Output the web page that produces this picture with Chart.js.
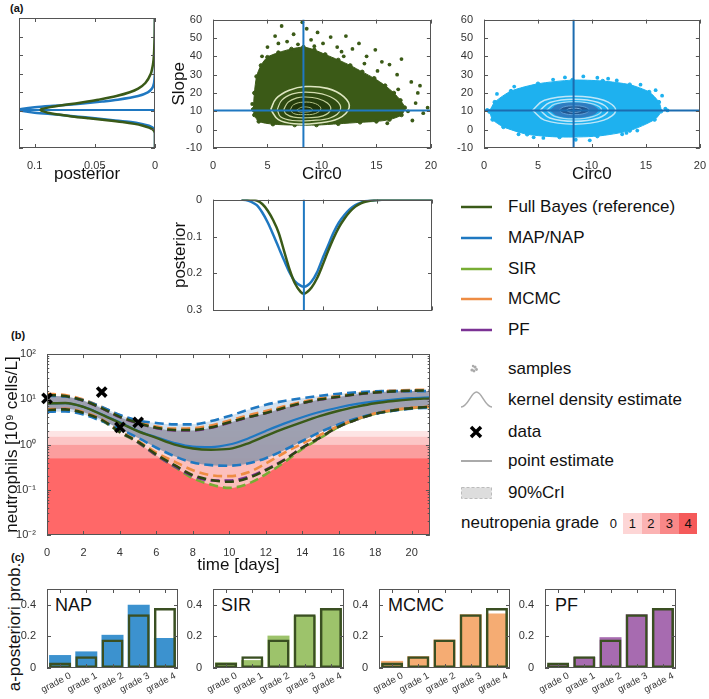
<!DOCTYPE html>
<html>
<head>
<meta charset="utf-8">
<script src="https://cdn.jsdelivr.net/npm/chart.js@4.4.0/dist/chart.umd.min.js"></script>
<style>
  body { margin: 0; background: #fff; }
  #fig { position: relative; width: 709px; height: 699px; overflow: hidden;
         font-family: 'Liberation Sans', Arial, sans-serif; color: #111; }
  #fig canvas { position: absolute; }
  .lab { position: absolute; font-size: 11px; font-weight: bold; }
  .leg { position: absolute; left: 508px; font-size: 17px; line-height: 20px; white-space: nowrap; }
  .sym { position: absolute; left: 458px; width: 38px; height: 24px; }
  .mname { position: absolute; font-size: 18px; line-height: 20px; }
  .gbox { position: absolute; top: 513px; width: 18.6px; height: 21px; font-size: 13px; line-height: 21px; text-align: center; }
</style>
</head>
<body>
<div id="fig">
  <div class="lab" style="left:10px;top:2px">(a)</div>
  <div class="lab" style="left:11px;top:329px">(b)</div>
  <div class="lab" style="left:11px;top:551px">(c)</div>

  <!-- legend -->
  <svg class="sym" style="top:195px"><line x1="3" y1="12" x2="34" y2="12" stroke="#3a5a18" stroke-width="2.5"/></svg>
  <div class="leg" style="top:197px">Full Bayes (reference)</div>
  <svg class="sym" style="top:226px"><line x1="3" y1="12" x2="34" y2="12" stroke="#1f78c1" stroke-width="2.5"/></svg>
  <div class="leg" style="top:228px">MAP/NAP</div>
  <svg class="sym" style="top:257px"><line x1="3" y1="12" x2="34" y2="12" stroke="#78ad34" stroke-width="2.5"/></svg>
  <div class="leg" style="top:259px">SIR</div>
  <svg class="sym" style="top:287px"><line x1="3" y1="12" x2="34" y2="12" stroke="#ee8c43" stroke-width="2.5"/></svg>
  <div class="leg" style="top:289px">MCMC</div>
  <svg class="sym" style="top:318px"><line x1="3" y1="12" x2="34" y2="12" stroke="#7b3294" stroke-width="2.5"/></svg>
  <div class="leg" style="top:320px">PF</div>
  <svg class="sym" style="top:357px"><g fill="#aaa"><circle cx="14" cy="13" r="1.6"/><circle cx="17" cy="10" r="1.6"/><circle cx="16" cy="14" r="1.4"/><circle cx="18.5" cy="12.5" r="1.4"/><circle cx="15" cy="9" r="1.2"/></g></svg>
  <div class="leg" style="top:359px">samples</div>
  <svg class="sym" style="top:388px"><path d="M3,19 C10,19 13,4 18.5,4 C24,4 27,19 34,19" fill="none" stroke="#aaa" stroke-width="1.5"/></svg>
  <div class="leg" style="top:390px">kernel density estimate</div>
  <svg class="sym" style="top:420px"><path d="M13,7 L23,17 M23,7 L13,17" stroke="#000" stroke-width="3.5"/></svg>
  <div class="leg" style="top:422px">data</div>
  <svg class="sym" style="top:449px"><line x1="3" y1="12" x2="34" y2="12" stroke="#aaa" stroke-width="2"/></svg>
  <div class="leg" style="top:451px">point estimate</div>
  <svg class="sym" style="top:481px"><rect x="3.5" y="6.5" width="30" height="11" fill="#ddd" stroke="#bbb" stroke-dasharray="3,2"/></svg>
  <div class="leg" style="top:483px">90%CrI</div>
  <div class="leg" style="left:461px;top:513px">neutropenia grade</div>
  <div class="gbox" style="left:604px">0</div>
  <div class="gbox" style="left:623px;background:#fdd6d6">1</div>
  <div class="gbox" style="left:641.6px;background:#fbb3b3">2</div>
  <div class="gbox" style="left:660.2px;background:#f98888">3</div>
  <div class="gbox" style="left:678.8px;background:#f55a5a">4</div>

  <!-- panel (c) labels -->
  <div class="mname" style="left:55px;top:595px">NAP</div>
  <div class="mname" style="left:221px;top:595px">SIR</div>
  <div class="mname" style="left:388px;top:595px">MCMC</div>
  <div class="mname" style="left:555px;top:595px">PF</div>
  <div style="position:absolute;left:-65px;top:617px;width:160px;text-align:center;font-size:17px;line-height:20px;transform:rotate(-90deg);white-space:nowrap">a-posteriori prob.</div>
</div>

<script>
// ---------- data: panel (a) ----------
const mapCirc0 = 8.3;
const mapSlope = 10.5;

const slopeGrid    = [-10, -2, 0, 1, 2, 3, 4, 5, 6, 7, 8, 9, 10, 10.5, 11, 12, 13, 14, 15, 16, 18, 20, 22, 25, 30, 35, 40, 50, 60];
const fbSlopePost  = [0, 0, 0.002, 0.005, 0.01, 0.017, 0.027, 0.04, 0.055, 0.069, 0.08, 0.089, 0.094, 0.095, 0.094, 0.087, 0.077, 0.066, 0.056, 0.047, 0.032, 0.021, 0.014, 0.008, 0.0035, 0.0017, 0.0009, 0.0003, 0.0001];
const napSlopePost = [0, 0, 0.0008, 0.002, 0.005, 0.011, 0.02, 0.035, 0.05, 0.066, 0.082, 0.1, 0.111, 0.113, 0.111, 0.1, 0.078, 0.06, 0.044, 0.031, 0.014, 0.006, 0.0025, 0.0008, 0.0001, 0, 0, 0, 0];

const circGrid    = [2.6, 3, 3.5, 4, 4.5, 5, 5.5, 6, 6.5, 7, 7.5, 8, 8.3, 8.6, 9, 9.5, 10, 10.5, 11, 11.5, 12, 12.5, 13, 13.5, 14, 15, 16, 18, 20];
const fbCircPost  = [0, 0, 0.0005, 0.003, 0.012, 0.03, 0.056, 0.09, 0.14, 0.19, 0.228, 0.25, 0.255, 0.25, 0.238, 0.213, 0.178, 0.14, 0.105, 0.075, 0.052, 0.033, 0.019, 0.01, 0.005, 0.001, 0, 0, 0];
const napCircPost = [0, 0.001, 0.006, 0.015, 0.035, 0.062, 0.095, 0.13, 0.165, 0.198, 0.222, 0.233, 0.236, 0.233, 0.222, 0.197, 0.16, 0.125, 0.09, 0.062, 0.042, 0.026, 0.015, 0.008, 0.004, 0.001, 0, 0, 0];

// dense sample cloud outlines + sparse outlying samples
const fbCloudCirc  = [3.7, 3.8, 4.0, 4.4, 5.0, 6.0, 7.2, 8.3, 9.3, 10.3, 11.5, 12.6, 13.7, 14.8, 15.8, 16.6, 17.2, 17.6, 17.3, 16.2, 15.0, 13.5, 11.5, 9.5, 7.5, 5.5, 4.2, 3.8, 3.7];
const fbCloudSlope = [11, 20, 29, 35, 39.5, 42, 44, 45, 43.5, 41, 38, 35, 31.5, 28, 24, 20, 16, 12, 8, 5.5, 4.5, 4, 3.2, 2.5, 2.5, 3, 4.5, 8, 11];
const fbOutCirc  = [5.0, 5.7, 6.3, 6.8, 7.4, 8.2, 8.6, 9.0, 9.6, 10.1, 10.8, 11.4, 12.2, 12.8, 13.4, 14.1, 14.9, 15.5, 16.2, 17.3, 16.9, 18.2, 19.0, 18.8, 19.7, 19.3, 18.3, 17.9, 16.0, 6.0, 7.8, 11.8, 4.5, 9.3, 12.0, 13.9, 15.1, 18.6, 17.0, 3.6];
const fbOutSlope = [45, 51, 56.5, 48, 52, 58.5, 55, 49, 53, 47, 50.5, 45, 51, 44, 47, 40, 43.5, 37, 35.5, 38.5, 30, 26, 24, 20, 12, 9, 5, 10, 3.5, 47, 46.5, 42.5, 40, 45.5, 40, 36, 32, 14.5, 22, 14];

const napCloudCirc  = [0.5, 1.0, 2.5, 5.0, 8.2, 11.0, 13.5, 15.3, 16.2, 16.4, 15.8, 13.5, 10.5, 7.0, 4.0, 1.8, 0.8, 0.5];
const napCloudSlope = [10, 15, 21, 25, 27, 26.5, 24.5, 20.5, 15, 10, 5.5, -0.5, -3.5, -4, -2.5, 1.5, 5.5, 10];
const napOutCirc  = [9.2, 7.5, 11.5, 14.5, 16.8, 17.0, 16.5, 15.9, 0.3, 1.2, 2.8, 12.8, 8.5, 9.8, 5.5, 13.2, 3.2, 10.5, 4.6, 6.4, 12.3, 14.2];
const napOutSlope = [29, 28.5, 27.8, 24.5, 11.5, 10.5, 18.5, 21.5, 10.8, 19.5, 23.5, -2.5, -5.5, -5.8, -4.5, -1.8, -2.5, 28.3, -4.2, 27.3, 26.8, -0.5];

// kernel density contours (outer -> inner)
const fbContourCirc = [
  [5.3, 5.8, 7.0, 8.5, 10.5, 12.0, 12.5, 11.5, 9.5, 7.5, 6.0, 5.3],
  [5.9, 6.3, 7.3, 8.5, 10.0, 11.3, 11.7, 10.8, 9.0, 7.3, 6.2, 5.9],
  [6.5, 6.9, 7.7, 8.5, 9.6, 10.5, 10.8, 10.1, 8.7, 7.4, 6.7, 6.5],
  [7.1, 7.4, 8.3, 9.4, 9.9, 9.4, 8.3, 7.4, 7.1],
  [7.7, 8.2, 9.0, 9.1, 8.3, 7.8, 7.7]
];
const fbContourSlope = [
  [11, 17, 21.5, 23.5, 22.5, 18, 12, 6, 3.5, 3.2, 5.5, 11],
  [11, 16, 19.5, 20.5, 19.5, 16, 11, 6.5, 5, 5, 7, 11],
  [11, 15, 17.3, 17.8, 17, 14.5, 11, 7.5, 6.5, 6.8, 8.5, 11],
  [11, 13.6, 15, 14.2, 11.5, 8.8, 8.2, 8.8, 11],
  [10.8, 12.3, 11.8, 10.3, 9.5, 9.9, 10.8]
];
const napContourCirc = [
  [4.5, 5.6, 8.35, 11.1, 12.2, 11.1, 8.35, 5.6, 4.5],
  [5.2, 6.1, 8.35, 10.6, 11.5, 10.6, 8.35, 6.1, 5.2],
  [5.8, 6.55, 8.35, 10.15, 10.9, 10.15, 8.35, 6.55, 5.8],
  [6.15, 6.8, 8.35, 9.9, 10.55, 9.9, 8.35, 6.8, 6.15],
  [6.95, 7.35, 8.35, 9.35, 9.75, 9.35, 8.35, 7.35, 6.95],
  [7.65, 7.85, 8.35, 8.85, 9.05, 8.85, 8.35, 7.85, 7.65]
];
const napContourSlope = [
  [10.6, 16, 18.2, 16, 10.6, 5.2, 3.0, 5.2, 10.6],
  [10.6, 14.8, 16.6, 14.8, 10.6, 6.4, 4.6, 6.4, 10.6],
  [10.6, 13.9, 15.3, 13.9, 10.6, 7.3, 5.9, 7.3, 10.6],
  [10.6, 13.4, 14.5, 13.4, 10.6, 7.8, 6.7, 7.8, 10.6],
  [10.6, 12.3, 13.0, 12.3, 10.6, 8.9, 8.2, 8.9, 10.6],
  [10.6, 11.4, 11.7, 11.4, 10.6, 9.8, 9.5, 9.8, 10.6]
];

// ---------- data: panel (b) ----------
const timeGrid = [0, 1, 2, 3, 4, 5, 6, 7, 8, 9, 10, 11, 12, 13, 14, 15, 16, 17, 18, 19, 20, 21];
const fbMed  = [8.1, 8.3, 6.8, 4.6, 3.0, 1.95, 1.4, 1.0, 0.82, 0.77, 0.8, 1.05, 1.55, 2.25, 3.15, 4.3, 5.6, 6.9, 8.2, 9.2, 10.0, 10.5];
const napMed = [8.0, 8.2, 6.8, 4.7, 3.1, 2.0, 1.45, 1.08, 0.9, 0.88, 1.0, 1.35, 2.0, 2.9, 4.0, 5.3, 6.6, 7.9, 9.0, 9.9, 10.6, 11.0];
const fbUp   = [12.5, 11.8, 9.4, 6.4, 4.1, 3.0, 2.35, 2.1, 2.1, 2.4, 3.1, 4.0, 5.0, 6.5, 8.3, 10.0, 11.4, 13.0, 14.2, 15.0, 15.5, 15.7];
const fbLo   = [5.8, 6.0, 5.0, 3.5, 1.9, 1.15, 0.6, 0.35, 0.21, 0.165, 0.15, 0.18, 0.27, 0.45, 0.85, 1.45, 2.5, 3.6, 4.8, 5.7, 6.4, 6.8];
const napUp  = [12.0, 11.5, 9.5, 6.8, 4.5, 3.4, 3.0, 2.8, 2.8, 3.3, 4.3, 5.8, 7.6, 9.2, 10.6, 12.0, 13.3, 14.3, 15.0, 15.2, 15.2, 15.2];
const napLo  = [5.3, 5.4, 4.6, 3.3, 2.2, 1.4, 0.85, 0.55, 0.4, 0.35, 0.34, 0.38, 0.5, 0.75, 1.2, 1.9, 2.8, 3.8, 4.8, 5.6, 6.2, 6.5];
const sirUp  = [12.6, 11.9, 9.5, 6.5, 4.1, 3.0, 2.35, 2.1, 2.1, 2.45, 3.15, 4.1, 5.1, 6.6, 8.4, 10.1, 11.5, 13.1, 14.3, 15.1, 15.6, 15.8];
const sirLo  = [5.8, 6.0, 5.0, 3.4, 1.85, 1.1, 0.57, 0.32, 0.18, 0.13, 0.11, 0.135, 0.22, 0.4, 0.8, 1.4, 2.45, 3.6, 4.8, 5.7, 6.4, 6.8];
const mcmcUp = [13.2, 12.4, 9.9, 6.8, 4.4, 3.2, 2.5, 2.25, 2.3, 2.65, 3.4, 4.4, 5.5, 7.0, 8.8, 10.5, 12.0, 13.6, 14.8, 15.6, 16.1, 16.3];
const mcmcLo = [6.0, 6.2, 5.2, 3.6, 2.0, 1.2, 0.66, 0.42, 0.27, 0.21, 0.2, 0.24, 0.38, 0.65, 1.05, 1.65, 2.6, 3.7, 4.9, 5.8, 6.5, 6.9];
const pfUp   = [12.4, 11.7, 9.3, 6.3, 4.0, 2.95, 2.3, 2.05, 2.05, 2.35, 3.05, 3.95, 4.95, 6.4, 8.2, 9.9, 11.3, 12.9, 14.1, 14.9, 15.4, 15.6];
const pfLo   = [5.9, 6.1, 5.1, 3.5, 1.9, 1.12, 0.58, 0.33, 0.2, 0.16, 0.16, 0.19, 0.28, 0.46, 0.86, 1.45, 2.5, 3.6, 4.8, 5.7, 6.4, 6.8];
const dataT = [0, 3, 4, 5];
const dataN = [10.5, 14.5, 2.4, 3.1];
const gradeBounds = [2.0, 1.5, 1.0, 0.5];

// ---------- data: panel (c) ----------
const grades = ['grade 0', 'grade 1', 'grade 2', 'grade 3', 'grade 4'];
const fbProb   = [0.035, 0.075, 0.18, 0.34, 0.38];
const napProb  = [0.082, 0.105, 0.21, 0.40, 0.19];
const sirProb  = [0.035, 0.05, 0.205, 0.33, 0.38];
const mcmcProb = [0.045, 0.075, 0.18, 0.34, 0.345];
const pfProb   = [0.02, 0.07, 0.195, 0.34, 0.38];

// ---------- styling ----------
const TXT = '#333', AXIS = '#555';
const C_FB = '#3a5a18', C_FBD = '#2c4512', C_NAP = '#1f78c1', C_SIR = '#78ad34', C_MCMC = '#ee8c43', C_PF = '#7b3294';
const bandColors = ['#fde4e4', '#fcc6c6', '#fb9e9e', '#ff6868'];
const FONT = "'Liberation Sans', Arial, sans-serif";

Chart.defaults.font.family = FONT;
Chart.defaults.font.size = 11;
Chart.defaults.color = TXT;
Chart.defaults.animation = false;
Chart.defaults.responsive = false;
Chart.defaults.maintainAspectRatio = false;
Chart.defaults.plugins.legend.display = false;
Chart.defaults.plugins.tooltip.enabled = false;
Chart.defaults.elements.point.radius = 0;

const pts = (xs, ys) => xs.map((x, i) => ({x: x, y: ys[i]}));

function mkCanvas(left, top, w, h) {
  const c = document.createElement('canvas');
  c.width = w; c.height = h;
  c.style.left = left + 'px'; c.style.top = top + 'px';
  c.style.width = w + 'px'; c.style.height = h + 'px';
  document.getElementById('fig').appendChild(c);
  return c.getContext('2d');
}

function axis(o) {
  const a = {
    type: o.type || 'linear', reverse: !!o.reverse, offset: !!o.offset,
    grid: {display: false}, border: {display: false},
    ticks: Object.assign({color: TXT, font: {size: 11}, padding: 3, autoSkip: false,
                          maxRotation: 0, minRotation: 0, includeBounds: false}, o.ticks || {}),
    title: o.title ? {display: true, text: o.title, color: '#111', font: {size: 17},
                      padding: {top: o.tpad != null ? o.tpad : 2, bottom: 0}} : {display: false},
    afterFit: o.w != null ? s => { s.width = o.w; } : s => { s.height = o.h; }
  };
  if (o.min != null) a.min = o.min;
  if (o.max != null) a.max = o.max;
  if (o.fixedTicks) a.afterBuildTicks = s => { s.ticks = o.fixedTicks.map(v => ({value: v})); };
  return a;
}

// box with inward ticks, MATLAB style
const boxTicks = {
  id: 'boxTicks',
  afterDraw(chart) {
    const ctx = chart.ctx, a = chart.chartArea;
    ctx.save();
    ctx.strokeStyle = AXIS; ctx.lineWidth = 1;
    ctx.strokeRect(Math.round(a.left) + 0.5, Math.round(a.top) + 0.5,
                   Math.round(a.right - a.left) - 1, Math.round(a.bottom - a.top) - 1);
    ctx.beginPath();
    Object.values(chart.scales).forEach(s => {
      s.ticks.forEach((t, i) => {
        const p = Math.round(s.getPixelForTick(i)) + 0.5;
        let len = 4;
        if (s.type === 'logarithmic') {
          const e = Math.log10(t.value);
          len = Math.abs(e - Math.round(e)) < 1e-6 ? 4 : 2.2;
        }
        if (s.isHorizontal()) {
          ctx.moveTo(p, a.bottom); ctx.lineTo(p, a.bottom - len);
          ctx.moveTo(p, a.top); ctx.lineTo(p, a.top + len);
        } else {
          ctx.moveTo(a.left, p); ctx.lineTo(a.left + len, p);
          ctx.moveTo(a.right, p); ctx.lineTo(a.right - len, p);
        }
      });
    });
    ctx.stroke();
    ctx.restore();
  }
};

// slanted category labels under the bar panels
const slantLabels = {
  id: 'slantLabels',
  afterDraw(chart) {
    const ctx = chart.ctx, x = chart.scales.x, a = chart.chartArea;
    ctx.save();
    ctx.fillStyle = TXT;
    ctx.font = '9.5px ' + FONT;
    ctx.textAlign = 'right';
    ctx.textBaseline = 'top';
    chart.data.labels.forEach((lab, i) => {
      ctx.save();
      ctx.translate(x.getPixelForTick(i) + 8, a.bottom + 3);
      ctx.rotate(-28 * Math.PI / 180);
      ctx.fillText(lab, 0, 0);
      ctx.restore();
    });
    ctx.restore();
  }
};

function layered(list) {
  list.forEach((d, i) => { d.order = list.length - i; });
  return list;
}

function line(data, color, width, extra) {
  return Object.assign({data: data, showLine: true, borderColor: color, borderWidth: width,
                        pointRadius: 0, fill: false, tension: 0.3}, extra || {});
}

// ---------- (a) top-left: posterior of Slope ----------
new Chart(mkCanvas(0, 10, 165, 175), {
  type: 'scatter',
  data: {datasets: layered([
    line(pts([0, 0.113], [mapSlope, mapSlope]), C_NAP, 2, {tension: 0}),
    line(pts(napSlopePost, slopeGrid), C_NAP, 2.5),
    line(pts(fbSlopePost, slopeGrid), C_FB, 2.5)
  ])},
  options: {
    layout: {padding: {top: 8, right: 10, left: 0, bottom: 0}},
    scales: {
      x: axis({min: 0, max: 0.113, reverse: true, h: 37, title: 'posterior',
               fixedTicks: [0, 0.05, 0.1], ticks: {callback: v => String(v)}}),
      y: axis({min: -10, max: 60, w: 19, ticks: {stepSize: 10, display: false}})
    }
  },
  plugins: [boxTicks]
});

// ---------- (a) scatter charts ----------
function scatterPanel(ctx, cfg) {
  const ds = [];
  ds.push(Object.assign(line(pts(cfg.cloudC, cfg.cloudS), cfg.color, 1, {tension: 0.25}),
          {fill: 'shape', backgroundColor: cfg.color, pointRadius: 1.8, pointBackgroundColor: cfg.color}));
  ds.push({data: pts(cfg.outC, cfg.outS), showLine: false, pointRadius: 1.9,
           pointBackgroundColor: cfg.color, pointBorderWidth: 0});
  cfg.contC.forEach((cc, k) => {
    const st = cfg.contStyle[k];
    ds.push(line(pts(cc, cfg.contS[k]), st.line, st.w, {tension: 0.4,
            fill: st.fill ? 'shape' : false, backgroundColor: st.fill || 'transparent'}));
  });
  ds.push(line(pts([mapCirc0, mapCirc0], [-10, 60]), cfg.cross, 2, {tension: 0}));
  ds.push(line(pts([0, 20], [mapSlope, mapSlope]), cfg.cross, 2, {tension: 0}));
  return new Chart(ctx, {
    type: 'scatter',
    data: {datasets: layered(ds)},
    options: {
      layout: {padding: {top: 8, right: cfg.padR, left: 0, bottom: 0}},
      scales: {
        x: axis({min: 0, max: 20, h: 37, title: 'Circ0', ticks: {stepSize: 5}}),
        y: axis({min: -10, max: 60, w: cfg.yw, title: cfg.ytitle, tpad: 4, ticks: {stepSize: 10}})
      }
    },
    plugins: [boxTicks]
  });
}

const fbContFill = 'rgba(18,32,4,0.28)';
scatterPanel(mkCanvas(165, 10, 275, 175), {
  color: '#3b5a17', cross: C_NAP, padR: 9, yw: 48, ytitle: 'Slope',
  cloudC: fbCloudCirc, cloudS: fbCloudSlope, outC: fbOutCirc, outS: fbOutSlope,
  contC: fbContourCirc, contS: fbContourSlope,
  contStyle: [
    {line: '#dfe7c2', w: 1.6, fill: null},
    {line: '#d3ddb0', w: 1.2, fill: fbContFill},
    {line: '#c5d29c', w: 1.2, fill: fbContFill},
    {line: '#b3c285', w: 1.0, fill: fbContFill},
    {line: '#9fb070', w: 1.0, fill: fbContFill}
  ]
});

const napCloudColor = '#1eb1ef';
scatterPanel(mkCanvas(445, 10, 264, 175), {
  color: napCloudColor, cross: '#1c6cb0', padR: 7, yw: 39, ytitle: null,
  cloudC: napCloudCirc, cloudS: napCloudSlope, outC: napOutCirc, outS: napOutSlope,
  contC: napContourCirc, contS: napContourSlope,
  contStyle: [
    {line: '#bfe6f8', w: 1.5, fill: null},
    {line: '#bfe6f8', w: 1.5, fill: null},
    {line: '#a9dcf4', w: 1.3, fill: null},
    {line: '#2f7cc0', w: 1.0, fill: '#2f7cc0'},
    {line: '#5f9fd6', w: 1.0, fill: '#21568f'},
    {line: '#7fb5e3', w: 1.0, fill: '#1b3f6e'}
  ]
});

// ---------- (a) bottom: posterior of Circ0 ----------
new Chart(mkCanvas(165, 190, 275, 130), {
  type: 'scatter',
  data: {datasets: layered([
    line(pts(circGrid, napCircPost), C_NAP, 2.5),
    line(pts(circGrid, fbCircPost), C_FB, 2.5),
    line(pts([mapCirc0, mapCirc0], [0, 0.3]), C_NAP, 2, {tension: 0})
  ])},
  options: {
    layout: {padding: {top: 7, right: 8, left: 0, bottom: 0}},
    scales: {
      x: axis({min: 0, max: 20, h: 9, ticks: {stepSize: 5, display: false}}),
      y: axis({min: 0, max: 0.3, reverse: true, w: 48, title: 'posterior', tpad: 5,
               ticks: {stepSize: 0.1, callback: v => (v === 0 ? '0' : v.toFixed(1))}})
    }
  },
  plugins: [boxTicks]
});

// ---------- (b) neutrophil time course ----------
const methodsCI = [
  {lo: sirLo, hi: sirUp, color: C_SIR},
  {lo: pfLo, hi: pfUp, color: C_PF},
  {lo: mcmcLo, hi: mcmcUp, color: C_MCMC},
  {lo: napLo, hi: napUp, color: C_NAP},
  {lo: fbLo, hi: fbUp, color: C_FBD}
];
const unionLo = timeGrid.map((t, i) => Math.min(...methodsCI.map(m => m.lo[i])));
const unionHi = timeGrid.map((t, i) => Math.max(...methodsCI.map(m => m.hi[i])));
const interLo = timeGrid.map((t, i) => Math.max(...methodsCI.map(m => m.lo[i])));
const interHi = timeGrid.map((t, i) => Math.min(...methodsCI.map(m => m.hi[i])));

const curveOpts = {cubicInterpolationMode: 'monotone'};
const hidden = ys => line(pts(timeGrid, ys), 'transparent', 0, curveOpts);
const dsB = [
  hidden(unionLo),
  Object.assign(hidden(unionHi), {fill: 0, backgroundColor: 'rgba(250,246,240,0.62)'}),
  hidden(napLo),
  Object.assign(hidden(napUp), {fill: 2, backgroundColor: 'rgba(165,200,232,0.45)'}),
  hidden(interLo),
  Object.assign(hidden(interHi), {fill: 4, backgroundColor: 'rgba(146,146,164,0.82)'})
];
methodsCI.forEach(m => {
  dsB.push(line(pts(timeGrid, m.lo), m.color, 2.6, Object.assign({borderDash: [9, 5]}, curveOpts)));
  dsB.push(line(pts(timeGrid, m.hi), m.color, 2.6, Object.assign({borderDash: [9, 5]}, curveOpts)));
});
dsB.push(line(pts(timeGrid, napMed), C_NAP, 2.2, curveOpts));
dsB.push(line(pts(timeGrid, fbMed), C_FB, 2.4, curveOpts));
dsB.push({data: pts(dataT, dataN), showLine: false, pointStyle: 'crossRot', pointRadius: 6.5,
          pointBorderWidth: 3.6, pointBorderColor: '#000', clip: false});

const bands = {
  id: 'bands',
  beforeDatasetsDraw(chart) {
    const ctx = chart.ctx, a = chart.chartArea, y = chart.scales.y;
    const edges = gradeBounds.concat([y.min]);
    ctx.save();
    for (let i = 0; i < gradeBounds.length; i++) {
      const top = y.getPixelForValue(edges[i]), bot = y.getPixelForValue(edges[i + 1]);
      ctx.fillStyle = bandColors[i];
      ctx.fillRect(a.left, top, a.right - a.left, bot - top);
    }
    ctx.restore();
  }
};

const supDigits = {'-': '\u207B', '0': '\u2070', '1': '\u00B9', '2': '\u00B2'};
new Chart(mkCanvas(0, 344, 440, 232), {
  type: 'scatter',
  data: {datasets: layered(dsB)},
  options: {
    layout: {padding: {top: 10, right: 9, left: 0, bottom: 0}},
    scales: {
      x: axis({min: 0, max: 21, h: 41, title: 'time [days]', ticks: {stepSize: 2}}),
      y: axis({type: 'logarithmic', min: 0.01, max: 100, w: 47, tpad: 2,
               title: 'neutrophils [10\u2079 cells/L]',
               ticks: {callback: v => {
                 const e = Math.log10(v);
                 if (Math.abs(e - Math.round(e)) > 1e-6) return '';
                 return '10' + String(Math.round(e)).split('').map(ch => supDigits[ch]).join('');
               }}})
    }
  },
  plugins: [bands, boxTicks]
});

// ---------- (c) grade probabilities ----------
function gradePanel(left, w, yw, probs, color) {
  return new Chart(mkCanvas(left, 575, w, 124), {
    type: 'bar',
    data: {
      labels: grades,
      datasets: layered([
        {data: probs, backgroundColor: color, borderWidth: 0, grouped: false,
         barPercentage: 0.84, categoryPercentage: 1.0},
        {data: fbProb, backgroundColor: 'rgba(0,0,0,0)', borderColor: '#3a4f22', borderWidth: 2.5,
         borderSkipped: false, grouped: false, barPercentage: 0.84, categoryPercentage: 1.0}
      ])
    },
    options: {
      layout: {padding: {top: 14, right: 7, left: 0, bottom: 0}},
      scales: {
        x: axis({type: 'category', offset: true, h: 31, ticks: {display: false}}),
        y: axis({min: 0, max: 0.5, w: yw,
                 ticks: {stepSize: 0.2, callback: v => (v === 0 ? '0' : v.toFixed(1))}})
      }
    },
    plugins: [boxTicks, slantLabels]
  });
}
gradePanel(0, 185, 47, napProb, '#3c92cf');
gradePanel(183, 168, 30, sirProb, '#9dc36b');
gradePanel(349, 168, 30, mcmcProb, '#f5ac73');
gradePanel(515, 168, 30, pfProb, '#a76bb0');
</script>
</body>
</html>
